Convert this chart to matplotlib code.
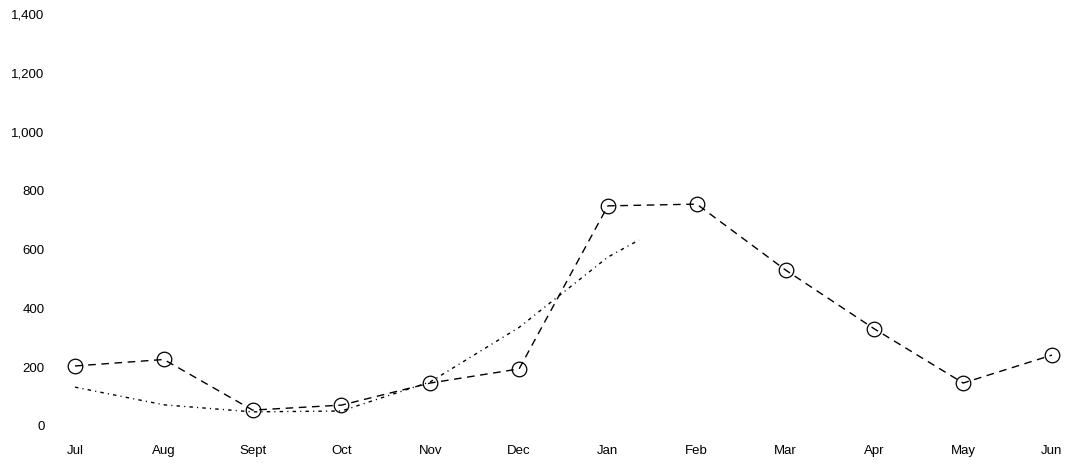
import numpy as np
import matplotlib.pyplot as plt

plt.rcParams['font.family'] = ['Liberation Sans', 'DejaVu Sans']

months = ["Jul", "Aug", "Sept", "Oct", "Nov", "Dec",
          "Jan", "Feb", "Mar", "Apr", "May", "Jun"]
actual = [204, 226, 54, 71, 146, 194, 748, 754, 530, 330, 146, 241]

# second series stops partway through Jan
trend_x = [0, 1, 2, 3, 4, 5, 6, 6.35]
trend = [132, 72, 48, 51, 150, 335, 574, 632]

yticks = [0, 200, 400, 600, 800, 1000, 1200, 1400]

fig = plt.figure(figsize=(10.73, 4.67), dpi=100)
W, H = 1073, 467
ax = fig.add_axes([75 / W, (H - 426) / H, (1052 - 75) / W, (426 - 14) / H])

x = np.arange(len(months))
ax.plot(x, actual, color="black", lw=1, dashes=(5.5, 4),
        marker="o", ms=10.5, mfc="none", mec="black", mew=0.9, clip_on=False)
ax.plot(trend_x, trend, color="black", lw=1, dashes=(2.5, 3, 0.8, 3),
        clip_on=False)

ax.set_xlim(0, 11)
ax.set_ylim(0, 1400)
ax.set_xticks(x)
ax.set_xticklabels(months)
ax.set_yticks(yticks)
ax.set_yticklabels([f"{v:,}" for v in yticks])
ax.tick_params(length=0, labelsize=9.5, colors="black")
ax.tick_params(axis="x", pad=14)
ax.tick_params(axis="y", pad=22)
for s in ax.spines.values():
    s.set_visible(False)

fig.savefig("out.png", dpi=100)
